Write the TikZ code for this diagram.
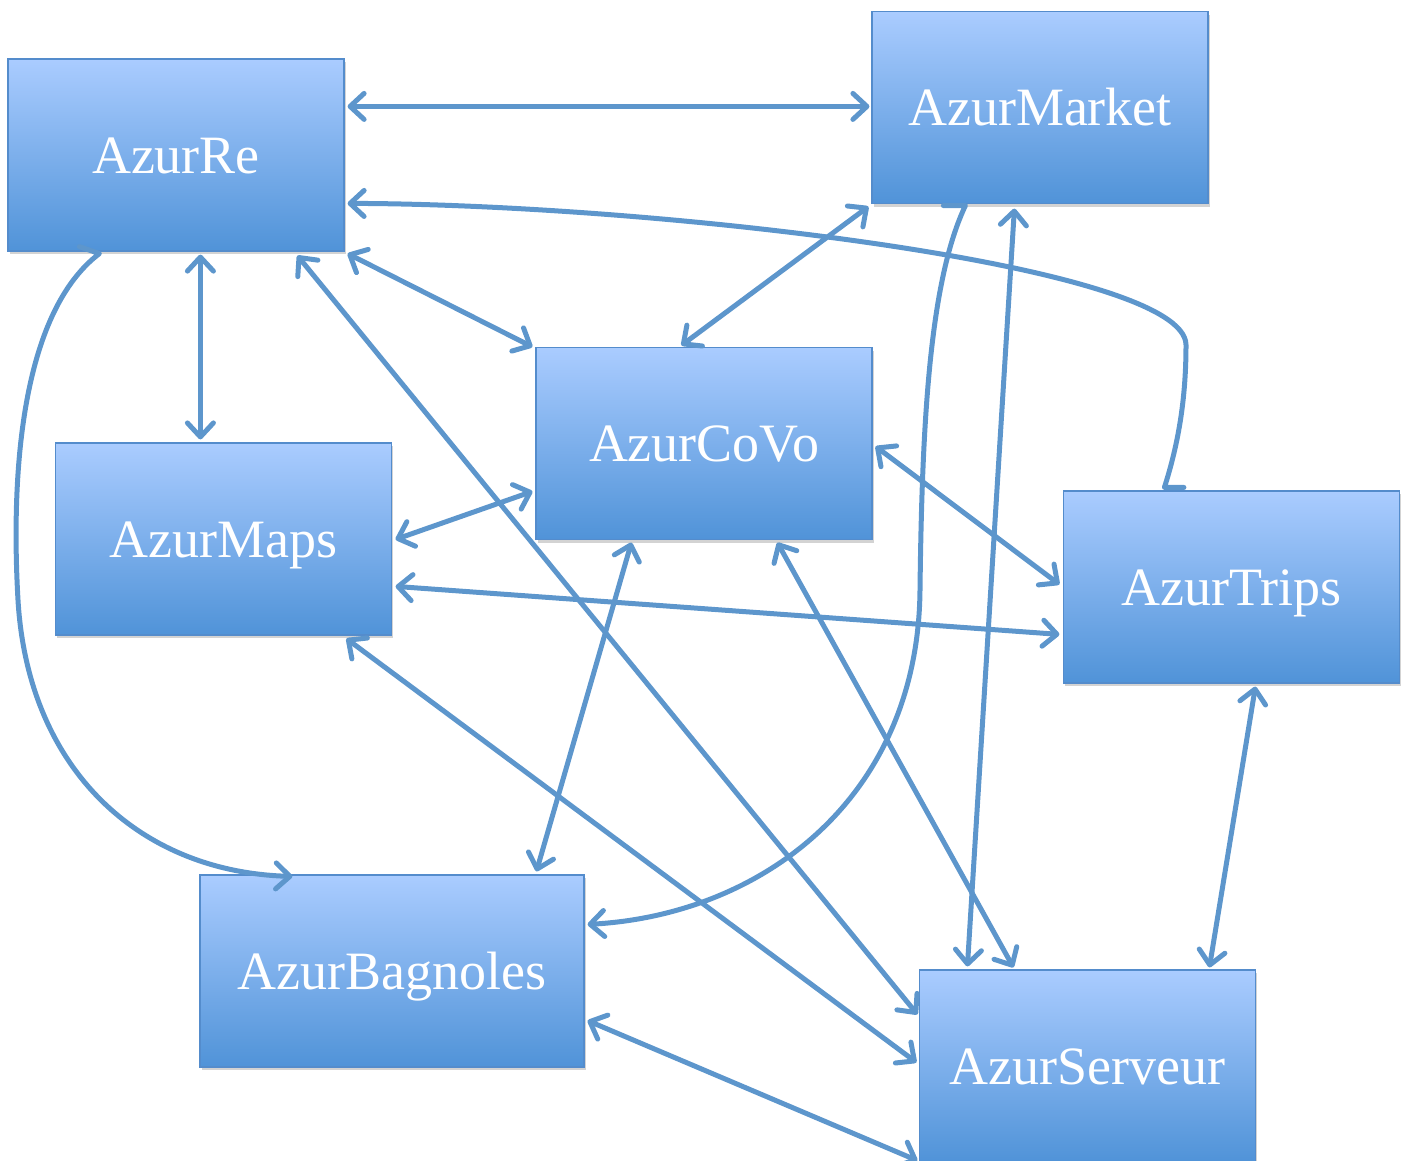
\documentclass[tikz,border=0pt]{standalone}
\usepackage{fontspec}
\setmainfont{Liberation Serif}
\usetikzlibrary{arrows.meta,shadows,calc}
\definecolor{boxtop}{RGB}{170,204,255}
\definecolor{boxbot}{RGB}{80,147,216}
\definecolor{boxedge}{RGB}{84,140,204}
\definecolor{linec}{RGB}{93,150,204}
\begin{document}
\begin{tikzpicture}[x=1pt,y=-1pt,
  box/.style={rectangle, draw=boxedge, line width=1.2pt, top color=boxtop, bottom color=boxbot,
    minimum width=336pt, minimum height=192pt, text=white,
    font=\fontsize{54}{60}\selectfont, text height=36pt, text depth=0pt, inner sep=0pt,
    drop shadow={shadow xshift=1.5pt, shadow yshift=-3pt, opacity=0.35}},
  conn/.style={draw=linec, line width=5pt, line cap=round, line join=round},
  >={Straight Barb[length=14pt,width=26pt,round]}]
\useasboundingbox (0,0) rectangle (1405,1160);

\node[box] (re) at (176,155) {AzurRe};
\node[box] (mk) at (1040,107.5) {AzurMarket};
\node[box] (cv) at (704,443.5) {AzurCoVo};
\node[box] (mp) at (223.5,539) {AzurMaps};
\node[box] (tr) at (1231.5,587) {AzurTrips};
\node[box, minimum width=384pt] (bg) at (392,971) {AzurBagnoles};
\node[box] (sv) at (1087.5,1066) {AzurServeur};

% straight connectors
\draw[conn,<->] ($(re.north east)+(3,48)$) -- ($(mk.north west)+(-2,95.5)$);
\draw[conn,<->] ($(mk.south west)+(143,4.5)$) -- ($(sv.north west)+(48.5,-3)$);
\draw[conn,<->] ($(mk.south west)+(-3,2.5)$) -- ($(cv.north west)+(146,-1.5)$);
\draw[conn,<->] ($(re.south east)+(3,2)$) -- ($(cv.north west)+(-3,0)$);
\draw[conn,<->] ($(re.south west)+(193,3)$) -- ($(mp.north west)+(145.5,-3)$);
\draw[conn,<->] ($(re.south west)+(290,4)$) -- ($(sv.north west)+(-1.5,45)$);
\draw[conn,<->] ($(mp.north east)+(3.5,97)$) -- ($(cv.north west)+(-3,144.5)$);
\draw[conn,<->] ($(mp.north east)+(3.5,144)$) -- ($(tr.north west)+(-3.5,144)$);
\draw[conn,<->] ($(mp.south west)+(291.5,3)$) -- ($(sv.north west)+(-2.5,93)$);
\draw[conn,<->] ($(cv.north east)+(3,99.5)$) -- ($(tr.north west)+(-3.5,94)$);
\draw[conn,<->] ($(cv.south west)+(96,2.5)$) -- ($(bg.north west)+(337,-3)$);
\draw[conn,<->] ($(cv.south west)+(242,2.5)$) -- ($(sv.north west)+(94.5,-2)$);
\draw[conn,<->] ($(tr.south west)+(192.5,3)$) -- ($(sv.north west)+(290.5,-2)$);
\draw[conn,<->] ($(bg.south east)+(3,-47)$) -- ($(sv.south west)+(-1.5,-2)$);

% curved connectors
\draw[conn,->] ($(tr.north west)+(121,-3)$) -- ($(tr.north west)+(101.5,-3)$)
  .. controls (1178,445) and (1186,400) .. (1186,345)
  .. controls (1186,265) and (650,204) .. ($(re.north east)+(3,145)$);
\draw[conn,->] ($(mk.south west)+(72,1.5)$) -- ($(mk.south west)+(94,1.5)$)
  .. controls (930,280) and (922,420) .. (920,590)
  .. controls (918,800) and (760,915) .. ($(bg.north east)+(3,50)$);
\draw[conn,->] ($(re.south west)+(72,-5)$) -- ($(re.south west)+(92,2)$)
  .. controls (25,310) and (10,460) .. (18,600)
  .. controls (28,770) and (140,872) .. ($(bg.north west)+(93,2)$);
\end{tikzpicture}
\end{document}
